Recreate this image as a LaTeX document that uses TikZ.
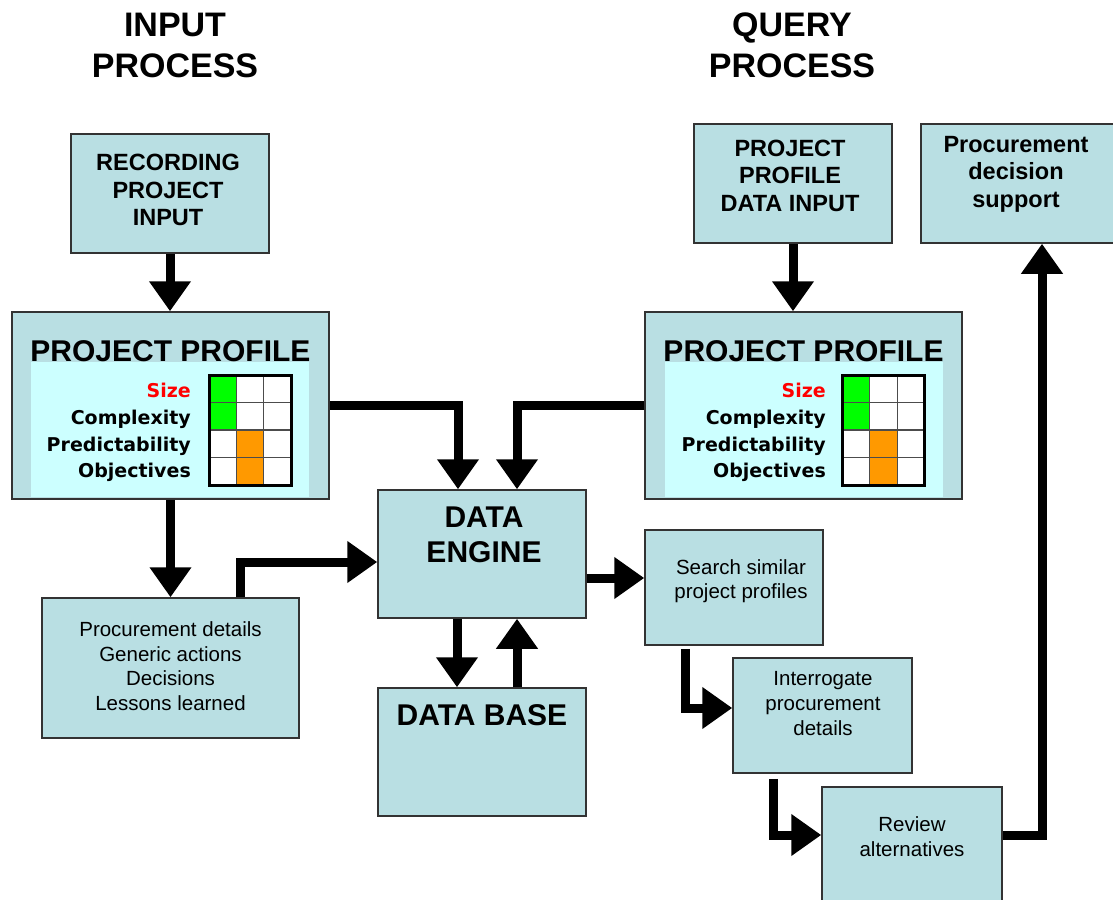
\documentclass[tikz,border=0pt]{standalone}
\usepackage{fontspec}
\setmainfont{Liberation Sans}
\newfontfamily\pixfont{DejaVu Sans}
\usetikzlibrary{arrows.meta}

\definecolor{boxfill}{RGB}{185,223,227}
\definecolor{panelfill}{RGB}{204,255,255}
\definecolor{cellgreen}{RGB}{0,255,0}
\definecolor{cellorange}{RGB}{255,153,0}

\begin{document}
\begin{tikzpicture}[x=1pt, y=-1pt,
    every node/.style={inner sep=0pt},
    frame/.style={draw=black!80, line width=1.5pt, fill=boxfill},
    head/.style={align=center, font=\fontsize{34}{41}\selectfont\bfseries},
    title/.style={align=center, font=\fontsize{23.5}{27.5}\selectfont\bfseries},
    big/.style={align=center, font=\fontsize{30}{35}\selectfont\bfseries},
    plain/.style={align=center, font=\fontsize{20.5}{24.6}\selectfont},
    crit/.style={anchor=base east, font=\pixfont\fontsize{19}{22}\selectfont\bfseries},
    flow/.style={line width=9pt, -{Triangle[width=40pt,length=30pt]}}]
    \useasboundingbox (0,0) rectangle (1113,899);

    % headings
    \node[head] (inhead) at (175,45) {INPUT\\PROCESS};
    \node[head] (qhead) at (792,45) {QUERY\\PROCESS};

    % input side
    \node[frame, minimum width=198, minimum height=119] (rec) at (170,193.5) {};
    \node[title] (rectxt) at (168,190) {RECORDING\\PROJECT\\INPUT};

    \node[frame, minimum width=317, minimum height=187] (ppl) at (170.5,405.5) {};
    \node[big, anchor=base] (ppltxt) at (170.5,361.5) {PROJECT PROFILE};
    \fill[panelfill] (31,362) rectangle (309,497);
    % chart
    \fill[white] (209,375) rectangle (291,485);
    \fill[cellgreen] (209,375) rectangle (236.3,430);
    \fill[cellorange] (236.3,430) rectangle (263.7,485);
    \draw[black!70, line width=1.2pt] (236.3,375) -- (236.3,485) (263.7,375) -- (263.7,485)
        (209,402.5) -- (291,402.5) (209,430) -- (291,430) (209,457.5) -- (291,457.5);
    \draw[line width=3pt] (209,375) rectangle (291,485);
    \node[crit, text=red] (lsize) at (191,397) {Size};
    \node[crit] (lcomp) at (191,424) {Complexity};
    \node[crit] (lpred) at (191,451) {Predictability};
    \node[crit] (lobj) at (191,477) {Objectives};

    \node[frame, minimum width=257, minimum height=140] (det) at (170.5,668) {};
    \node[plain] (dettxt) at (170.5,666) {Procurement details\\Generic actions\\Decisions\\Lessons learned};

    % engine and base
    \node[frame, minimum width=208, minimum height=128] (eng) at (482,554) {};
    \node[big] (engtxt) at (484,534.5) {DATA\\ENGINE};
    \node[frame, minimum width=208, minimum height=128] (db) at (482,752) {};
    \node[big, anchor=base] (dbtxt) at (482,725) {DATA BASE};

    % query side
    \node[frame, minimum width=198, minimum height=119] (ppi) at (793,183.5) {};
    \node[title] (ppitxt) at (790,175.5) {PROJECT\\PROFILE\\DATA INPUT};

    \node[frame, minimum width=196, minimum height=119] (dec) at (1019,183.5) {};
    \node[title] (dectxt) at (1016,174) {Procurement\\decision\\support};

    \node[frame, minimum width=317, minimum height=187] (ppr) at (803.5,405.5) {};
    \node[big, anchor=base] (pprtxt) at (803.5,361.5) {PROJECT PROFILE};
    \fill[panelfill] (665,362) rectangle (943,497);
    % chart
    \fill[white] (842.5,375) rectangle (924.5,485);
    \fill[cellgreen] (842.5,375) rectangle (869.8,430);
    \fill[cellorange] (869.8,430) rectangle (897.2,485);
    \draw[black!70, line width=1.2pt] (869.8,375) -- (869.8,485) (897.2,375) -- (897.2,485)
        (842.5,402.5) -- (924.5,402.5) (842.5,430) -- (924.5,430) (842.5,457.5) -- (924.5,457.5);
    \draw[line width=3pt] (842.5,375) rectangle (924.5,485);
    \node[crit, text=red] (rsize) at (826,397) {Size};
    \node[crit] (rcomp) at (826,424) {Complexity};
    \node[crit] (rpred) at (826,451) {Predictability};
    \node[crit] (robj) at (826,477) {Objectives};

    \node[frame, minimum width=178, minimum height=115] (srch) at (734,587.5) {};
    \node[plain] (srchtxt) at (741,581) {Search similar\\project profiles};
    \node[frame, minimum width=179, minimum height=115] (intr) at (822.5,715.5) {};
    \node[plain] (intrtxt) at (823,703.5) {Interrogate\\procurement\\details};
    \node[frame, minimum width=180, minimum height=123] (rev) at (912,848.5) {};
    \node[plain] (revtxt) at (912,836.5) {Review\\alternatives};

    % connectors
    \draw[flow] (rec.south) -- (rec.south |- ppl.north);
    \draw[flow] (ppi.south) -- (ppi.south |- ppr.north);
    \draw[flow] (ppl.east) -| ([xshift=-24pt]eng.north);
    \draw[flow] (ppr.west) -| ([xshift=35pt]eng.north);
    \draw[flow] ([xshift=-25pt]eng.south) -- ([xshift=-25pt]db.north);
    \draw[flow] ([xshift=35pt]db.north) -- ([xshift=35pt]eng.south);
    \draw[flow] (ppl.south) -- (det.north);
    \draw[flow] ([xshift=70pt]det.north) |- ([yshift=-8pt]eng.west);
    \coordinate (eo) at ([yshift=-24pt]eng.east);
    \draw[flow] (eo) -- (eo -| srch.west);
    \draw[flow] ([xshift=-49pt,yshift=-3pt]srch.south) |- ([yshift=7.5pt]intr.west);
    \draw[flow] ([xshift=-49.5pt,yshift=-5pt]intr.south) |- ([yshift=13.5pt]rev.west);
    \draw[flow] ([yshift=13.5pt]rev.east) -| ([xshift=23pt]dec.south);
\end{tikzpicture}
\end{document}
